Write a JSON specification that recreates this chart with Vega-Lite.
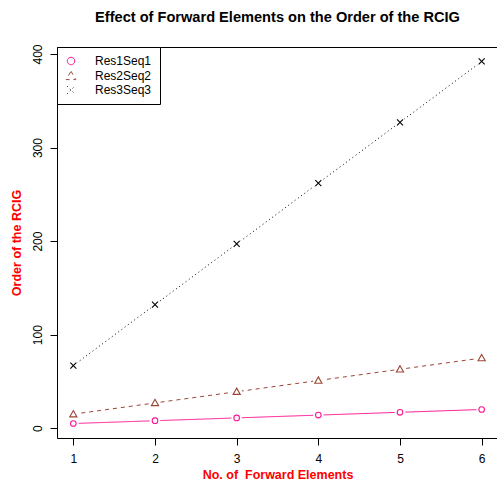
{
  "$schema": "https://vega.github.io/schema/vega-lite/v6.json",
  "width": 441,
  "height": 391,
  "autosize": "none",
  "padding": {"left": 57, "top": 47, "right": 0, "bottom": 45},
  "background": "white",
  "config": {
    "font": "Liberation Sans",
    "view": {"stroke": "black", "strokeWidth": 1},
    "axis": {"grid": false, "domain": false, "tickColor": "black", "tickSize": 7, "labelColor": "black", "labelFontSize": 12, "labelFont": "Liberation Sans", "titleFont": "Liberation Sans"}
  },
  "title": {"text": "Effect of Forward Elements on the Order of the RCIG", "fontSize": 14.6, "fontWeight": "bold", "font": "Liberation Sans", "color": "black", "anchor": "middle", "offset": 19},
  "data": {"values": [
    {"x": 1, "value": 5, "series": "Res1Seq1"},
    {"x": 2, "value": 8, "series": "Res1Seq1"},
    {"x": 3, "value": 11, "series": "Res1Seq1"},
    {"x": 4, "value": 14, "series": "Res1Seq1"},
    {"x": 5, "value": 17, "series": "Res1Seq1"},
    {"x": 6, "value": 20, "series": "Res1Seq1"},
    {"x": 1, "value": 15, "series": "Res2Seq2"},
    {"x": 2, "value": 27, "series": "Res2Seq2"},
    {"x": 3, "value": 39, "series": "Res2Seq2"},
    {"x": 4, "value": 51, "series": "Res2Seq2"},
    {"x": 5, "value": 63, "series": "Res2Seq2"},
    {"x": 6, "value": 75, "series": "Res2Seq2"},
    {"x": 1, "value": 67, "series": "Res3Seq3"},
    {"x": 2, "value": 132, "series": "Res3Seq3"},
    {"x": 3, "value": 197, "series": "Res3Seq3"},
    {"x": 4, "value": 262, "series": "Res3Seq3"},
    {"x": 5, "value": 327, "series": "Res3Seq3"},
    {"x": 6, "value": 392, "series": "Res3Seq3"}
  ]},
  "encoding": {
    "x": {"field": "x", "type": "quantitative", "scale": {"domain": [0.8, 6.2], "nice": false, "zero": false},
      "axis": {"values": [1, 2, 3, 4, 5, 6], "title": "No. of\u00a0 Forward Elements", "titleColor": "#FF0000", "titleFontSize": 12.5, "titleFontWeight": "bold", "labelPadding": 8, "titlePadding": 4}},
    "y": {"field": "value", "type": "quantitative", "scale": {"domain": [-10.48, 407.48], "nice": false, "zero": false},
      "axis": {"values": [0, 100, 200, 300, 400], "title": "Order of the RCIG", "titleColor": "#FF0000", "titleFontSize": 12.5, "titleFontWeight": "bold", "labelAngle": -90, "labelAlign": "center", "labelBaseline": "bottom", "labelPadding": 6, "titlePadding": 8}}
  },
  "layer": [
    {
      "mark": {"type": "line", "strokeWidth": 1},
      "encoding": {
        "color": {"field": "series", "type": "nominal", "scale": {"domain": ["Res1Seq1", "Res2Seq2", "Res3Seq3"], "range": ["#FF1493", "#9A4535", "#000000"]}},
        "strokeDash": {"field": "series", "type": "nominal", "scale": {"domain": ["Res1Seq1", "Res2Seq2", "Res3Seq3"], "range": [[1, 0], [4, 4], [1, 3]]}, "legend": null}
      }
    },
    {
      "mark": {"type": "point", "filled": true, "color": "white", "opacity": 1, "size": 110, "shape": "circle"},
      "encoding": {}
    },
    {
      "mark": {"type": "point", "filled": false, "opacity": 1, "size": 36, "strokeWidth": 1.1},
      "encoding": {
        "color": {"field": "series", "type": "nominal",
          "legend": {"title": null, "orient": "none", "legendX": 0, "legendY": 0, "strokeColor": "black", "padding": 8, "symbolSize": 64, "symbolStrokeWidth": 1, "labelFontSize": 12, "labelColor": "black", "labelFont": "Liberation Sans", "labelOffset": 18, "rowPadding": 2, "fillColor": "white"}},
        "shape": {"field": "series", "type": "nominal",
          "scale": {"domain": ["Res1Seq1", "Res2Seq2", "Res3Seq3"], "range": ["M0.93,0A0.93,0.93 0 1,1 -0.93,0A0.93,0.93 0 1,1 0.93,0", "M0,-1.2L1.2,0.9L-1.2,0.9Z", "M-1,-1L1,1M-1,1L1,-1"]},
          "legend": {"title": null, "orient": "none", "legendX": 0, "legendY": 0, "strokeColor": "black", "padding": 8, "symbolSize": 64, "symbolStrokeWidth": 1, "labelFontSize": 12, "labelColor": "black", "labelFont": "Liberation Sans", "labelOffset": 18, "rowPadding": 2, "fillColor": "white"}}
      }
    }
  ]
}
